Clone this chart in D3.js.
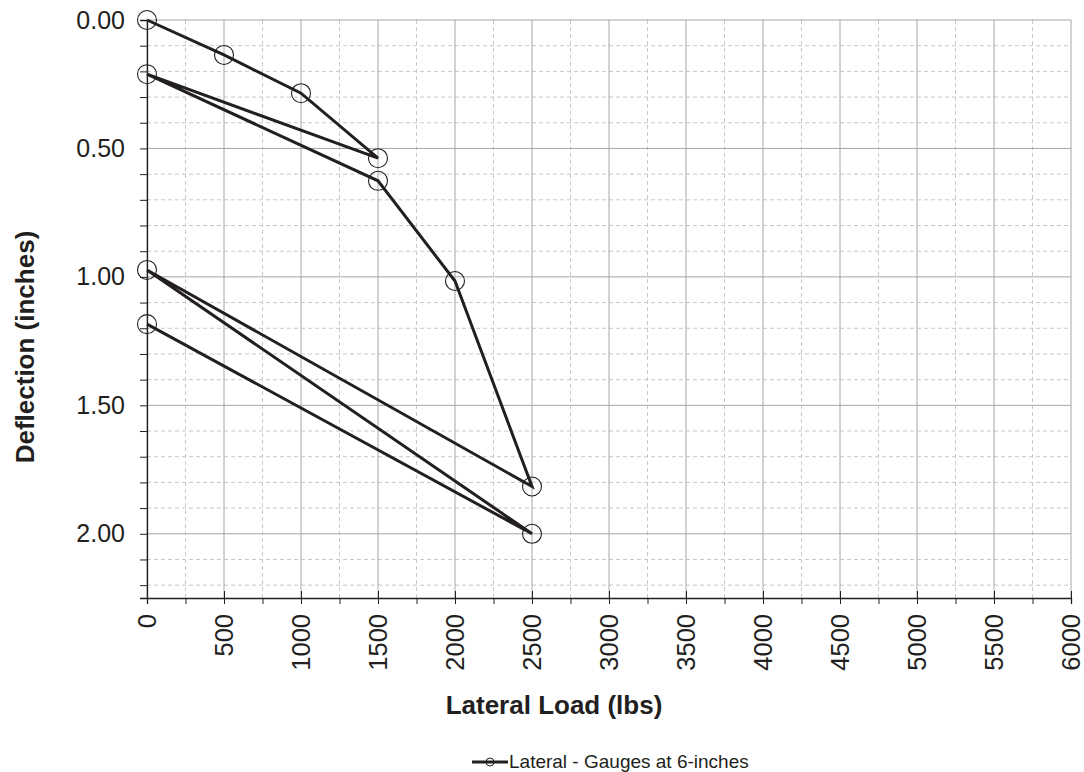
<!DOCTYPE html>
<html><head><meta charset="utf-8">
<script src="https://cdn.jsdelivr.net/npm/d3@7"></script>
<style>body{margin:0;background:#fff;} text{font-family:Arial,"Liberation Sans",sans-serif;fill:#231f20;}</style>
</head><body>
<svg id="c" width="1084" height="772"></svg>
<script>
const loads = [0, 500, 1000, 1500, 0, 1500, 2000, 2500, 0, 2500, 0];
const deflections = [0.0, 0.136, 0.285, 0.538, 0.211, 0.626, 1.016, 1.816, 0.973, 2.0, 1.184];
const xTicks = [0, 500, 1000, 1500, 2000, 2500, 3000, 3500, 4000, 4500, 5000, 5500, 6000];
const yTicks = [0, 0.5, 1.0, 1.5, 2.0];
const seriesName = "Lateral - Gauges at 6-inches";
const xTitle = "Lateral Load (lbs)";
const yTitle = "Deflection (inches)";

const svg = d3.select("#c");
const L = 147, R = 1071, T = 20, B = 598;
const x = d3.scaleLinear().domain([0, 6000]).range([L, R]);
const y = d3.scaleLinear().domain([0, 2.25]).range([T, B]);

const minorX = d3.range(0, 6001, 250).filter(v => v % 500 !== 0);
const minorY = d3.range(0, 23).map(i => +(i * 0.1).toFixed(2)).filter(v => Math.abs(v * 2 - Math.round(v * 2)) > 1e-6);

const g = svg.append("g");
g.selectAll(".mx").data(minorX).join("line")
  .attr("x1", d => x(d)).attr("x2", d => x(d)).attr("y1", T).attr("y2", B)
  .attr("stroke", "#c8c8c8").attr("stroke-dasharray", "4,3").attr("stroke-width", 1);
g.selectAll(".my").data(minorY).join("line")
  .attr("y1", d => y(d)).attr("y2", d => y(d)).attr("x1", L).attr("x2", R)
  .attr("stroke", "#c8c8c8").attr("stroke-dasharray", "4,3").attr("stroke-width", 1);
g.selectAll(".Mx").data(xTicks).join("line")
  .attr("x1", d => x(d)).attr("x2", d => x(d)).attr("y1", T).attr("y2", B)
  .attr("stroke", "#a6a6a6").attr("stroke-width", 1);
g.selectAll(".My").data(yTicks).join("line")
  .attr("y1", d => y(d)).attr("y2", d => y(d)).attr("x1", L).attr("x2", R)
  .attr("stroke", "#a6a6a6").attr("stroke-width", 1);

const xAxis = d3.axisBottom(x).tickValues(xTicks).tickSize(6).tickFormat(d3.format("d"));
const xa = svg.append("g").attr("transform", `translate(0,${B})`).call(xAxis);
xa.select(".domain").attr("stroke", "#231f20").attr("stroke-width", 1.3);
xa.selectAll(".tick line").attr("stroke", "#231f20").attr("y1", -7).attr("y2", 6);
xa.selectAll(".tick text").attr("transform", "rotate(-90)").attr("text-anchor", "end")
  .attr("x", -16).attr("y", 0).attr("dy", "0.35em").style("font-size", "25.5px").attr("fill", "#231f20");
const xm = d3.axisBottom(x).tickValues(minorX).tickSize(6).tickFormat("");
const xma = svg.append("g").attr("transform", `translate(0,${B})`).call(xm);
xma.select(".domain").remove();
xma.selectAll(".tick line").attr("stroke", "#231f20");

const yAxis = d3.axisLeft(y).tickValues(yTicks).tickSize(7).tickFormat(d3.format(".2f"));
const ya = svg.append("g").attr("transform", `translate(${L},0)`).call(yAxis);
ya.select(".domain").attr("stroke", "#231f20").attr("stroke-width", 1.3);
ya.selectAll(".tick line").attr("stroke", "#231f20");
ya.selectAll(".tick text").style("font-size", "25px").attr("x", -22).attr("fill", "#231f20");
const ym = d3.axisLeft(y).tickValues(minorY).tickSize(7).tickFormat("");
const yma = svg.append("g").attr("transform", `translate(${L},0)`).call(ym);
yma.select(".domain").remove();
yma.selectAll(".tick line").attr("stroke", "#231f20");

const pts = loads.map((v, i) => [v, deflections[i]]);
const line = d3.line().x(d => x(d[0])).y(d => y(d[1]));
svg.append("path").datum(pts).attr("d", line).attr("fill", "none")
  .attr("stroke", "#231f20").attr("stroke-width", 3).attr("stroke-linejoin", "miter");
svg.selectAll(".pt").data(pts).join("circle")
  .attr("cx", d => x(d[0])).attr("cy", d => y(d[1])).attr("r", 9.5)
  .attr("fill", "none").attr("stroke", "#231f20").attr("stroke-width", 1.1);

svg.append("text").attr("x", 554).attr("y", 714).attr("text-anchor", "middle")
  .style("font-size", "26px").style("font-weight", "bold").text(xTitle);
svg.append("text").attr("transform", "translate(34,347) rotate(-90)").attr("text-anchor", "middle")
  .style("font-size", "26px").style("font-weight", "bold").text(yTitle);

const lg = svg.append("g");
lg.append("line").attr("x1", 472).attr("x2", 508).attr("y1", 762).attr("y2", 762)
  .attr("stroke", "#231f20").attr("stroke-width", 3);
lg.append("circle").attr("cx", 490).attr("cy", 762).attr("r", 4)
  .attr("fill", "none").attr("stroke", "#231f20").attr("stroke-width", 1);
lg.append("text").attr("x", 509).attr("y", 768).style("font-size", "19px").text(seriesName);
</script>
</body></html>
